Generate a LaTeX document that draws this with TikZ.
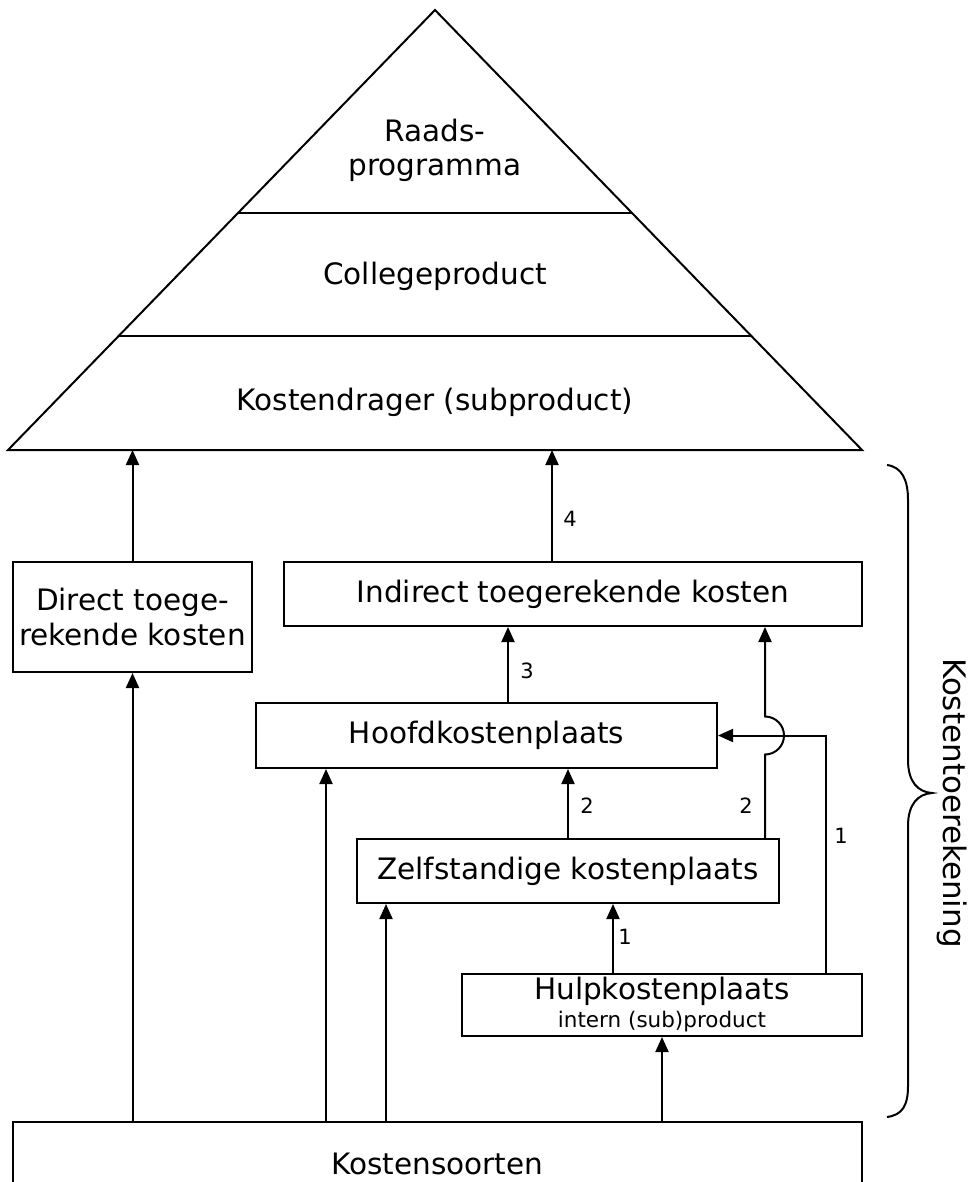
\documentclass[tikz,border=0pt]{standalone}
\usepackage{fontspec}
\setmainfont{DejaVu Sans}
\usetikzlibrary{arrows.meta,calc}
\tikzset{
  box/.style={draw, line width=2pt, rectangle, inner sep=0pt, font=\fontsize{29.5}{35}\selectfont, align=center},
  arr/.style={line width=2pt, -{Triangle[length=15pt,width=13pt]}},
  ln/.style={line width=2pt},
  num/.style={font=\fontsize{21}{24}\selectfont, inner sep=0pt},
  tri/.style={font=\fontsize{29.5}{34}\selectfont, align=center, inner sep=0pt},
}
\begin{document}
\begin{tikzpicture}[x=1pt,y=-1pt]
\useasboundingbox (0,0) rectangle (974,1182);
\clip (0,0) rectangle (974,1182);
% pyramid
\coordinate (A) at (435,10);
\coordinate (BL) at (8,450);
\coordinate (BR) at (862,450);
\draw[ln, line join=miter] (A) -- (BL) -- (BR) -- cycle;
\draw[ln] ($(A)!0.4614!(BL)$) coordinate (L1a) -- ($(A)!0.4614!(BR)$) coordinate (L1b);
\draw[ln] ($(A)!0.7409!(BL)$) coordinate (L2a) -- ($(A)!0.7409!(BR)$) coordinate (L2b);
\node[tri] (rp) at (435,150) {Raads-\\programma};
\node[tri] (cp) at (435,276) {Collegeproduct};
\node[tri] (kd) at (435,402) {Kostendrager (subproduct)};
% boxes
\node[box, minimum width=239pt, minimum height=110pt] (Direct) at (132.5,617) {Direct toege-\\rekende kosten};
\node[box, minimum width=578pt, minimum height=64pt] (Indirect) at (573,594) {Indirect toegerekende kosten};
\node[box, minimum width=461pt, minimum height=65pt] (Hoofd) at (486.5,735.5) {Hoofdkostenplaats};
\node[box, minimum width=422pt, minimum height=64pt] (Zelf) at (568,871) {Zelfstandige kostenplaats};
\node[box, minimum width=400pt, minimum height=62pt] (Hulp) at (662,1005) {Hulpkostenplaats\\[-7pt]{\fontsize{21.5}{24}\selectfont intern (sub)product}};
\node[box, minimum width=849pt, minimum height=84pt] (Kosten) at (437.5,1164) {Kostensoorten};
% arrows to pyramid
\draw[arr] (Direct.north) -- (Direct.north |- BL);
\draw[arr] ([xshift=-21pt]Indirect.north) coordinate (i4) -- (i4 |- BL);
\node[num] (n4) at ($(i4)+(18,-42)$) {4};
\draw[arr] ([xshift=21.5pt]Hoofd.north) coordinate (h3) -- (h3 |- Indirect.south);
\node[num] (n3) at ($(h3)+(19,-31)$) {3};
\draw[arr] (Zelf.north) -- (Zelf.north |- Hoofd.south);
\node[num] (n2a) at ($(Zelf.north)+(19,-32)$) {2};
\draw[arr] ([xshift=-15pt]Zelf.north east) coordinate (z2) -- ($(z2 |- Hoofd.east)+(0,19)$) arc[start angle=90, end angle=-90, radius=19] -- (z2 |- Indirect.south);
\node[num] (n2b) at ($(z2)+(-19,-32)$) {2};
\draw[arr] ([xshift=-37pt]Hulp.north east) coordinate (h1) -- (h1 |- Hoofd.east) -- (Hoofd.east);
\node[num] (n1a) at ($(h1)+(15,-137)$) {1};
\draw[arr] ([xshift=-49pt]Hulp.north) coordinate (u1) -- (u1 |- Zelf.south);
\node[num] (n1b) at ($(u1)+(12,-36)$) {1};
% from Kostensoorten
\draw[arr] (Kosten.north -| Direct.south) -- (Direct.south);
\draw[arr] ([xshift=314pt]Kosten.north west) coordinate (k2) -- (k2 |- Hoofd.south);
\draw[arr] ([xshift=374pt]Kosten.north west) coordinate (k3) -- (k3 |- Zelf.south);
\draw[arr] (Kosten.north -| Hulp.south) -- (Hulp.south);
% brace
\draw[ln] (887,465) .. controls (902,467) and (908,480) .. (908,500) -- (908,760) .. controls (908,782) and (918,792) .. (932,793) .. controls (918,794) and (908,804) .. (908,826) -- (908,1086) .. controls (908,1106) and (902,1115) .. (887,1117);
\node[rotate=-90, font=\fontsize{31}{36}\selectfont] (kt) at (952,803) {Kostentoerekening};
\end{tikzpicture}
\end{document}
